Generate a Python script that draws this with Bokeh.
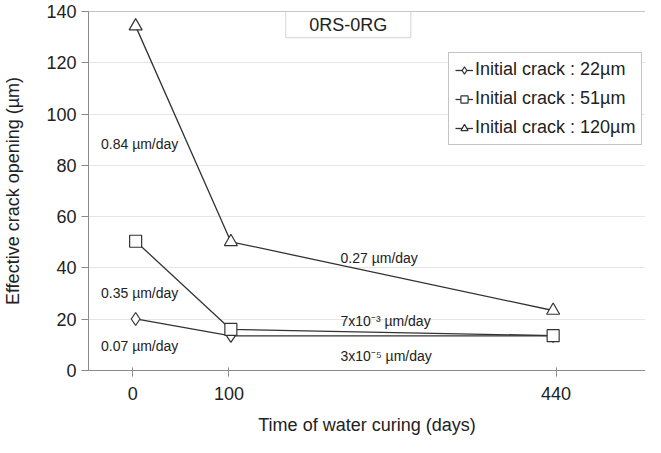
from bokeh.plotting import figure
from bokeh.models import Range1d, FixedTicker, Label, Legend, LegendItem, Span, BoxAnnotation
from bokeh.embed import file_html
from bokeh.resources import INLINE

# ---- data ----
days = [3, 102, 437]
crack22 = [20.1, 13.5, 13.5]
crack51 = [50.4, 16.0, 13.6]
crack120 = [134.3, 50.2, 23.4]
x_ticks = [0, 100, 440]
y_ticks = [0, 20, 40, 60, 80, 100, 120, 140]
series_labels = ["Initial crack : 22µm", "Initial crack : 51µm", "Initial crack : 120µm"]
rate_texts = ["0.84 µm/day", "0.35 µm/day", "0.07 µm/day",
              "0.27 µm/day", "7x10⁻³ µm/day", "3x10⁻⁵ µm/day"]
panel_title = "0RS-0RG"

FONT = "Liberation Sans"
TXT = "#222222"
LINE = "#333333"
AX = "#8a8a8a"

p = figure(width=645, height=437, output_backend="svg", toolbar_location=None,
           x_range=Range1d(-46, 533), y_range=Range1d(0, 140),
           min_border_left=80, min_border_right=0, min_border_top=11, min_border_bottom=63)
p.outline_line_color = None
p.background_fill_color = "white"

# axes
p.xaxis.ticker = FixedTicker(ticks=x_ticks)
p.yaxis.ticker = FixedTicker(ticks=y_ticks)
for ax in (p.xaxis, p.yaxis):
    ax.axis_line_color = AX
    ax.major_tick_line_color = AX
    ax.minor_tick_line_color = None
    ax.major_label_text_font = FONT
    ax.major_label_text_font_size = "18px"
    ax.major_label_text_color = TXT
    ax.axis_label_text_font = FONT
    ax.axis_label_text_font_size = "18px"
    ax.axis_label_text_font_style = "normal"
    ax.axis_label_text_color = TXT
p.xaxis.major_tick_in = 3
p.xaxis.major_tick_out = 6
p.xaxis.major_label_standoff = 10
p.xaxis.axis_label = "Time of water curing (days)"
p.xaxis.axis_label_standoff = 12
p.yaxis.major_tick_in = 0
p.yaxis.major_tick_out = 7
p.yaxis.major_label_standoff = 5
p.yaxis.axis_label = "Effective crack opening (µm)"
p.yaxis.axis_label_standoff = 20

p.xgrid.grid_line_color = None
p.ygrid.grid_line_color = "#e6e6e6"
p.add_layout(Span(location=140, dimension="width", line_color=AX, line_width=1))

# series
r1l = p.line(days, crack22, line_color=LINE, line_width=1.3)
r1m = p.scatter(days, crack22, marker="diamond", size=13, fill_color="white", line_color=LINE, line_width=1.2)
r2l = p.line(days, crack51, line_color=LINE, line_width=1.3)
r2m = p.scatter(days, crack51, marker="square", size=12, fill_color="white", line_color=LINE, line_width=1.2)
r3l = p.line(days, crack120, line_color=LINE, line_width=1.3)
r3m = p.scatter(days, crack120, marker="triangle", size=13, fill_color="white", line_color=LINE, line_width=1.2)

legend = Legend(items=[LegendItem(label=series_labels[0], renderers=[r1l, r1m]),
                       LegendItem(label=series_labels[1], renderers=[r2l, r2m]),
                       LegendItem(label=series_labels[2], renderers=[r3l, r3m])],
                location=(360, 225), orientation="vertical",
                label_text_font=FONT, label_text_font_size="18px", label_text_color=TXT,
                glyph_width=18, glyph_height=20, label_height=20, label_standoff=2,
                spacing=8, padding=6, margin=0,
                border_line_color=AX, border_line_width=1,
                background_fill_color="white", background_fill_alpha=1)
p.add_layout(legend)

# panel title box
p.add_layout(BoxAnnotation(left=159, right=289, bottom=129.8, top=140,
                           fill_color="white", fill_alpha=1, line_color=AX, line_width=1.2))
p.add_layout(Label(x=224, y=134.9, text=panel_title, text_align="center", text_baseline="middle",
                   text_font=FONT, text_font_size="18px", text_color=TXT))

# rate annotations
rate_pos = [(-33, 88.2), (-33, 30.3), (-33, 9.5), (216, 43.9), (216, 19.2), (216, 5.8)]
for t, (x, y) in zip(rate_texts, rate_pos):
    p.add_layout(Label(x=x, y=y, text=t, text_align="left", text_baseline="middle",
                       text_font=FONT, text_font_size="14px", text_color=TXT))

open("out.html", "w").write(file_html(p, INLINE))
